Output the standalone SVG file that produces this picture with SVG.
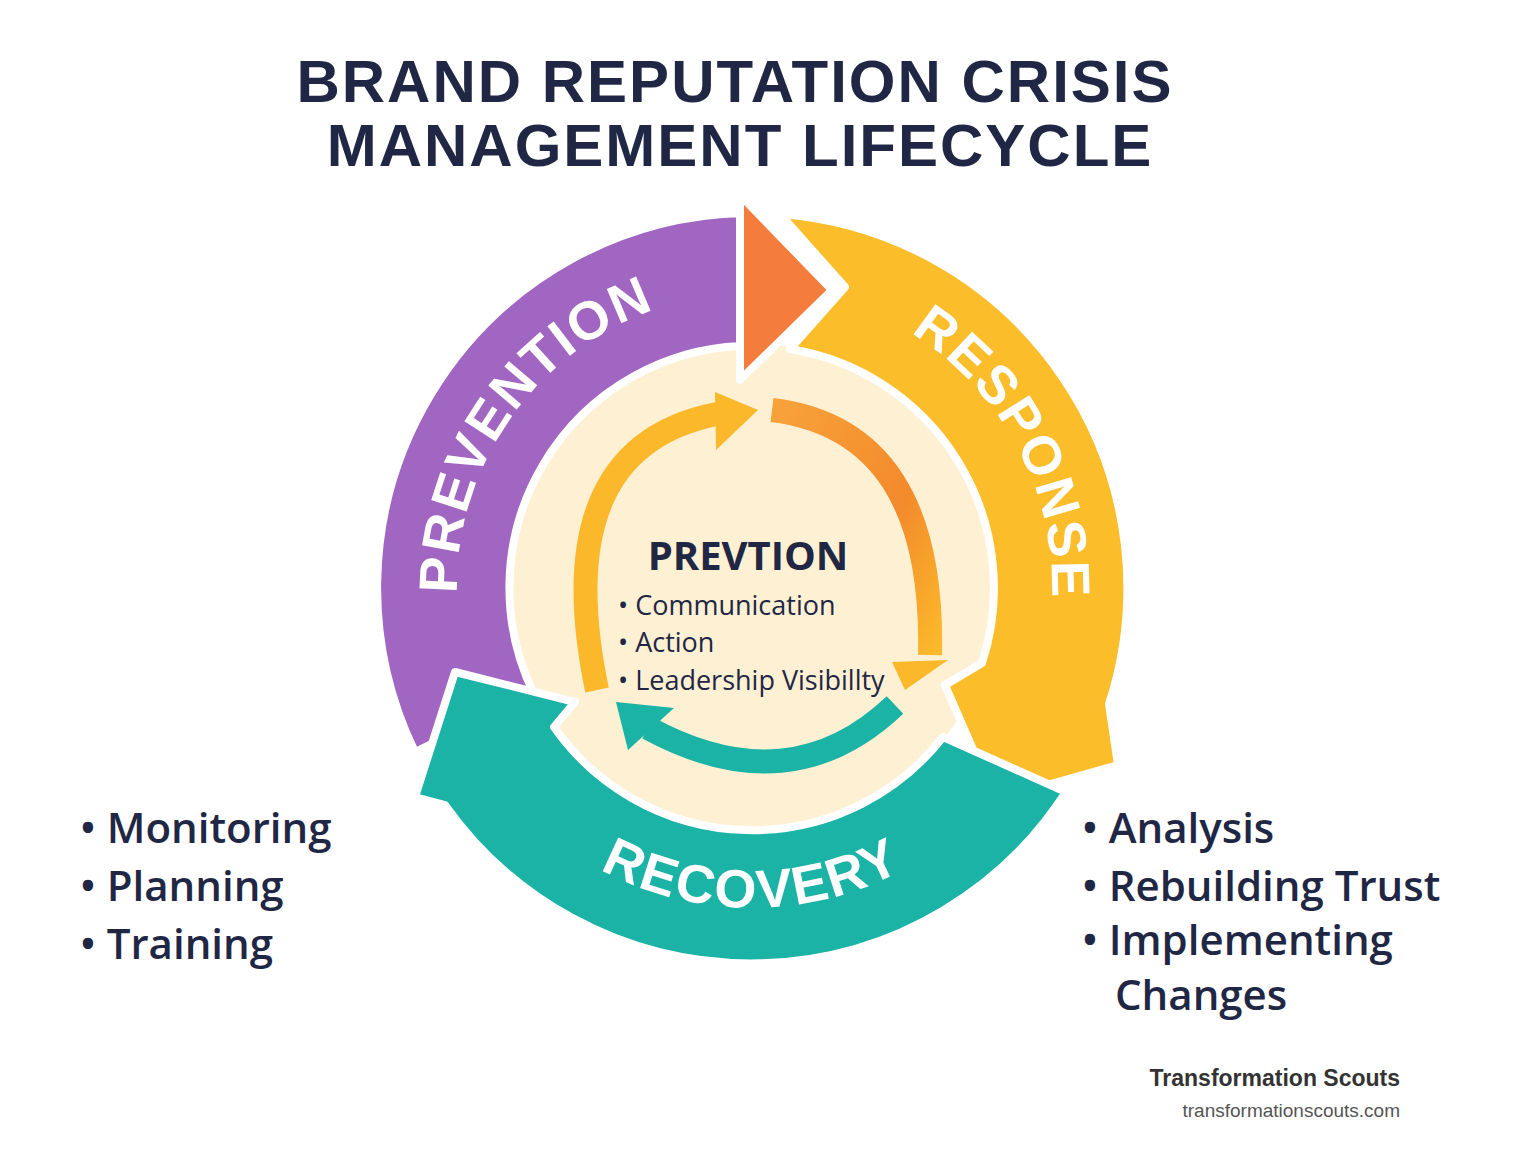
<svg xmlns="http://www.w3.org/2000/svg" width="1536" height="1154" viewBox="0 0 1536 1154">
<style>
.seg{stroke:#fff;stroke-width:8;stroke-linejoin:round}
.title{font-family:"Liberation Sans",Arial,sans-serif;font-weight:700;font-size:60px;fill:#1f2745;text-anchor:middle;letter-spacing:2px}
.arc{font-family:"Liberation Sans",Arial,sans-serif;font-weight:700;font-size:54px;fill:#fff;letter-spacing:2px}
.ctr{font-family:"Open Sans","Liberation Sans",sans-serif;fill:#1f2745}
.side{font-family:"Open Sans","Liberation Sans",sans-serif;font-weight:600;font-size:42px;fill:#1f2745}
</style>
<defs>
<path id="pPrev" d="M496.5,735.5 A295,295 0 0 1 803,297.5"/>
<path id="pResp" d="M762.5,288 A300,300 0 0 1 1006.4,747"/>
<path id="pRec" d="M475,748 A320,320 0 0 0 1029,748"/>
<linearGradient id="og" x1="0" y1="0" x2="1" y2="1"><stop offset="0" stop-color="#f8a23a"/><stop offset="0.6" stop-color="#f38a2c"/><stop offset="1" stop-color="#fbb82a"/></linearGradient>
</defs>
<rect width="1536" height="1154" fill="#fff"/>
<g id="title">
<text class="title" x="735" y="102">BRAND REPUTATION CRISIS</text>
<text class="title" x="740" y="166">MANAGEMENT LIFECYCLE</text>
</g>
<circle cx="752" cy="588" r="244" fill="#fdf0d3"/>
<g id="prevention">
<path class="seg" fill="#a066c2" d="M415,752 A375,375 0 0 1 740,213 L740,346 A242,242 0 0 0 534,694 Z"/>
<text class="arc"><textPath href="#pPrev" startOffset="50%" text-anchor="middle">PREVENTION</textPath></text>
</g>
<g id="response">
<path class="seg" fill="#fbbd2a" d="M780,214 L845,287 L790,349 A242,242 0 0 1 982,663 L945,685 L995,800 L1118,765 L1109,704 A375,375 0 0 0 780,214 Z"/>
<text class="arc"><textPath href="#pResp" startOffset="50%" text-anchor="middle">RESPONSE</textPath></text>
</g>
<polygon class="seg" id="orangeHead" fill="#f47c3c" points="740,195 832,290 740,380"/>
<g id="recovery">
<path class="seg" fill="#1ab3a6" d="M1066,792 A375,375 0 0 1 445,805 L415,797 L455,672 L575,702 L554,727 A242,242 0 0 0 943,737 Z"/>
<text class="arc"><textPath href="#pRec" startOffset="50%" text-anchor="middle">RECOVERY</textPath></text>
</g>
<g id="connectors">
<path d="M597,690 Q545,440 728,412" fill="none" stroke="#fbb82a" stroke-width="24"/>
<polygon points="715,392 758,410 716,450" fill="#fbb82a"/>
<path d="M772,410 Q935,430 930,655" fill="none" stroke="url(#og)" stroke-width="24"/>
<polygon points="892,662 948,660 905,690" fill="#fbb82a"/>
<path d="M895,705 Q790,805 648,728" fill="none" stroke="#1ab3a6" stroke-width="24"/>
<polygon points="616,702 674,708 628,750" fill="#1ab3a6"/>
</g>
<g id="center">
<text class="ctr" x="748" y="570" font-size="40" font-weight="700" text-anchor="middle">PREVTION</text>
<text class="ctr" x="618" y="615" font-size="27">• Communication</text>
<text class="ctr" x="618" y="652" font-size="27">• Action</text>
<text class="ctr" x="618" y="690" font-size="27">• Leadership Visibillty</text>
</g>
<g id="leftList">
<text class="side" x="80" y="843">• Monitoring</text>
<text class="side" x="80" y="901">• Planning</text>
<text class="side" x="80" y="959">• Training</text>
</g>
<g id="rightList">
<text class="side" x="1082" y="843">• Analysis</text>
<text class="side" x="1082" y="901">• Rebuilding Trust</text>
<text class="side" x="1082" y="955">• Implementing</text>
<text class="side" x="1115" y="1010">Changes</text>
</g>
<g id="footer">
<text x="1400" y="1086" font-family="'Liberation Sans',Arial,sans-serif" font-weight="700" font-size="23" fill="#333" text-anchor="end">Transformation Scouts</text>
<text x="1400" y="1117" font-family="'Liberation Sans',Arial,sans-serif" font-size="19" fill="#555" text-anchor="end">transformationscouts.com</text>
</g>
</svg>
